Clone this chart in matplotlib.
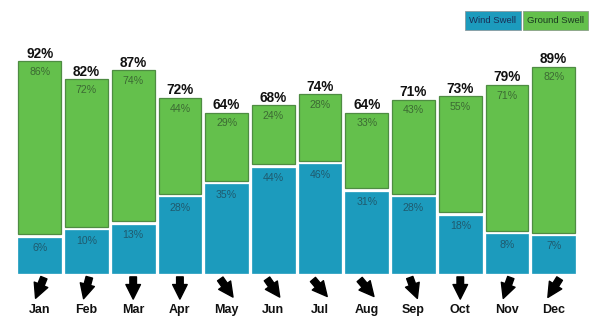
import matplotlib
matplotlib.use("Agg")
import matplotlib.pyplot as plt
import numpy as np
from matplotlib.patches import Rectangle
from matplotlib.transforms import ScaledTranslation

plt.rcParams['font.family'] = ['Liberation Sans', 'DejaVu Sans']

months = ["Jan", "Feb", "Mar", "Apr", "May", "Jun", "Jul", "Aug", "Sep", "Oct", "Nov", "Dec"]
wind_swell = [6, 10, 13, 28, 35, 44, 46, 31, 28, 18, 8, 7]
ground_swell = [86, 72, 74, 44, 29, 24, 28, 33, 43, 55, 71, 82]
total = [92, 82, 87, 72, 64, 68, 74, 64, 71, 73, 79, 89]
# swell direction: degrees away from straight down (positive = toward the right)
arrow_deg = [-22, -15, 0, 0, 35, 35, 40, 40, 20, 0, -20, -32]

BLUE = "#1c9bbd"
GREEN = "#64c04c"
GREEN_EDGE = "#4e8c42"
BLUE_TXT = "#1f5a6e"
GREEN_TXT = "#3c6a33"

BLUE_PAD = 13.4
GREEN_PAD = 8.2
GAP = 1.85

fig = plt.figure(figsize=(6, 3.25), dpi=100)
ax = fig.add_axes([0, 0, 1, 1])
ax.set_xlim(-0.85, 11.99)
ax.set_ylim(-28.0, 148.6)
ax.axis("off")

x = np.arange(len(months))
w = np.array(wind_swell, dtype=float)
g = np.array(ground_swell, dtype=float)
blue_h = w + BLUE_PAD
green_b = blue_h + GAP
green_h = g + GREEN_PAD

ax.bar(x, blue_h, width=0.914, color=BLUE, edgecolor=BLUE, linewidth=0.5)
ax.bar(x, green_h, bottom=green_b, width=0.914, color=GREEN, edgecolor=GREEN_EDGE, linewidth=0.9)

for i in range(len(months)):
    top = green_b[i] + green_h[i]
    ax.annotate(f"{total[i]}%", xy=(x[i], top), xytext=(0, 2.5), textcoords="offset points",
                ha="center", va="baseline", fontsize=9.8, fontweight="bold", color="#111111")
    ax.annotate(f"{ground_swell[i]}%", xy=(x[i], top), xytext=(0, -4.2), textcoords="offset points",
                ha="center", va="top", fontsize=7.6, color=GREEN_TXT)
    ax.annotate(f"{wind_swell[i]}%", xy=(x[i], blue_h[i]), xytext=(0, -3.9), textcoords="offset points",
                ha="center", va="top", fontsize=7.6, color=BLUE_TXT)
    # arrow
    th = np.deg2rad(arrow_deg[i])
    L = 16.0  # points
    dx, dy = np.sin(th), -np.cos(th)
    hx, hy = dx * L / 2, dy * L / 2
    trans = ax.transData + ScaledTranslation(hx / 72, hy / 72, fig.dpi_scale_trans)
    yc = -7.9
    ax.annotate("", xy=(x[i], yc), xycoords=trans,
                xytext=(-dx * L, -dy * L), textcoords="offset points",
                arrowprops=dict(arrowstyle="simple,head_length=0.75,head_width=0.75,tail_width=0.34",
                                color="black", shrinkA=0, shrinkB=0, mutation_scale=14))
    ax.text(x[i], -19.8, months[i], ha="center", va="center", fontsize=9,
            fontweight="bold", color="#111111")

# legend boxes
fig.patches.append(Rectangle((0.775, 0.908), 0.093, 0.059, transform=fig.transFigure,
                             facecolor=BLUE, edgecolor="#8a9aa0", linewidth=0.6))
fig.patches.append(Rectangle((0.871, 0.908), 0.1095, 0.059, transform=fig.transFigure,
                             facecolor=GREEN, edgecolor="#8aa088", linewidth=0.6))
fig.text(0.8215, 0.9375, "Wind Swell", ha="center", va="center", fontsize=6.8, color="#1a2d55")
fig.text(0.9258, 0.9375, "Ground Swell", ha="center", va="center", fontsize=6.8, color="#1a3a20")

fig.savefig("out.png", dpi=100)
